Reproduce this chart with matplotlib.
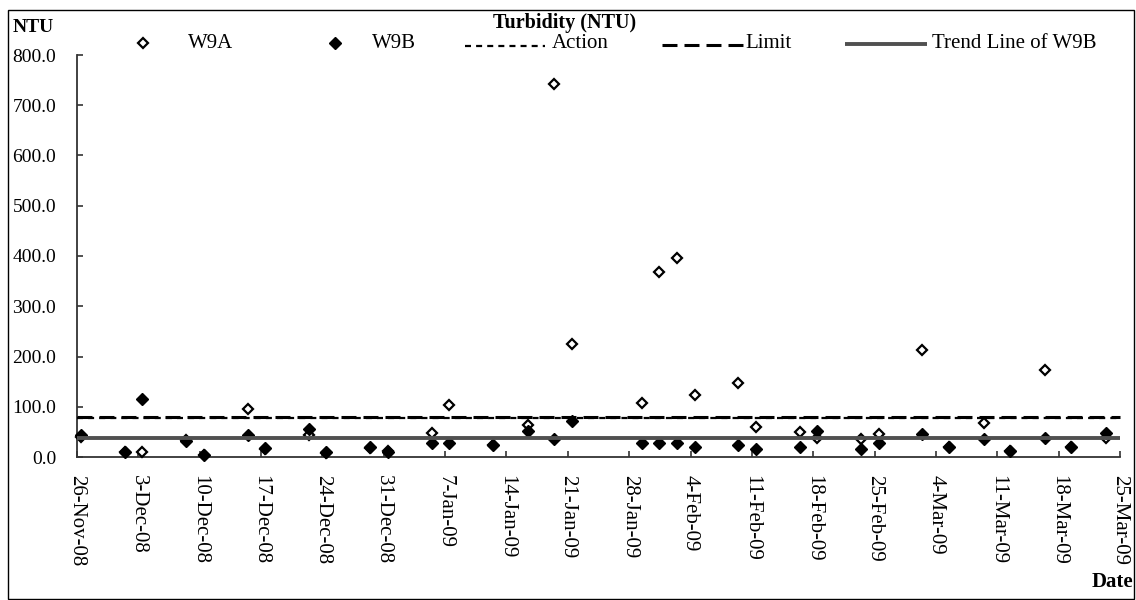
import matplotlib
matplotlib.use('Agg')
import matplotlib.pyplot as plt
import matplotlib.dates as mdates
from matplotlib.lines import Line2D
from matplotlib.patches import Rectangle
from matplotlib.ticker import FuncFormatter
import pandas as pd

# ---------------- data ----------------
sample_dates = ['2008-11-26', '2008-12-01', '2008-12-03', '2008-12-08', '2008-12-10',
                '2008-12-15', '2008-12-17', '2008-12-22', '2008-12-24', '2008-12-29',
                '2008-12-31', '2009-01-05', '2009-01-07', '2009-01-12', '2009-01-16',
                '2009-01-19', '2009-01-21', '2009-01-29', '2009-01-31', '2009-02-02',
                '2009-02-04', '2009-02-09', '2009-02-11', '2009-02-16', '2009-02-18',
                '2009-02-23', '2009-02-25', '2009-03-02', '2009-03-05', '2009-03-09',
                '2009-03-12', '2009-03-16', '2009-03-19', '2009-03-23']
sample_time = '11:00'
w9a = [40, 10, 10, 34, 4, 96, 16, 44, 8, 18,
       12, 48, 104, 24, 64, 742, 225, 108, 368, 396,
       124, 148, 60, 50, 38, 36, 46, 213, 20, 68,
       12, 173, 20, 38]
w9b = [44, 10, 116, 32, 4, 44, 18, 56, 10, 20,
       10, 28, 28, 24, 52, 36, 72, 28, 28, 28,
       20, 24, 16, 20, 52, 16, 28, 46, 20, 36,
       12, 38, 20, 48]
action_level = 77.0
limit_level = 80.0
trend_w9b = [37.0, 37.0]          # trend line value at axis start / end
axis_start, axis_end = '2008-11-26', '2009-03-25'
y_ticks = [0, 100, 200, 300, 400, 500, 600, 700, 800]
legend_labels = ['W9A', 'W9B', 'Action', 'Limit', 'Trend Line of W9B']

# ---------------- figure ----------------
plt.rcParams['font.family'] = ['Liberation Serif', 'DejaVu Serif']
W, H = 1136, 600
fig = plt.figure(figsize=(W / 100, H / 100), dpi=100)

def fx(px):
    return px / W

def fy(py):
    return 1 - py / H

ax = fig.add_axes([fx(77), fy(457), fx(1120) - fx(77), fy(55) - fy(457)])

dts = pd.to_datetime([d + ' ' + sample_time for d in sample_dates])
x0, x1 = pd.Timestamp(axis_start), pd.Timestamp(axis_end)

ax.plot(dts, w9a, linestyle='none', marker='D', markersize=5.4,
        markerfacecolor='white', markeredgecolor='black', markeredgewidth=1.6,
        zorder=3, clip_on=False)
ax.plot(dts, w9b, linestyle='none', marker='D', markersize=5.8,
        markerfacecolor='black', markeredgecolor='black', markeredgewidth=1.0,
        zorder=4, clip_on=False)

ax.plot([x0, x1], [action_level, action_level], color='black', lw=1.6,
        linestyle=(0, (2.7, 2.3)), zorder=5, clip_on=False)
ax.plot([x0, x1], [limit_level, limit_level], color='black', lw=2.2,
        linestyle=(0, (4.9, 2.3)), zorder=5, clip_on=False)
ax.plot([x0, x1], trend_w9b, color='#505050', lw=2.8, zorder=5,
        solid_capstyle='butt', clip_on=False)

ax.set_xlim(mdates.date2num(x0), mdates.date2num(x1))
ax.set_ylim(y_ticks[0], y_ticks[-1])
ax.set_yticks(y_ticks)
ax.yaxis.set_major_formatter(FuncFormatter(lambda v, p: f'{v:.1f}'))

xt = pd.date_range(x0, x1, freq='7D')
ax.set_xticks(mdates.date2num(xt))
ax.set_xticklabels([f'{d.day}-{d:%b-%y}' for d in xt], rotation=270,
                   ha='center', va='top', fontsize=15)

for s in ['top', 'right']:
    ax.spines[s].set_visible(False)
for s in ['left', 'bottom']:
    ax.spines[s].set_color('#333333')
    ax.spines[s].set_linewidth(1.3)

ax.tick_params(axis='both', direction='in', length=4, width=1.2, color='#333333',
               labelcolor='black')
ax.tick_params(axis='y', labelsize=14, pad=15)
ax.tick_params(axis='x', pad=13)

# ---------------- texts ----------------
fig.text(fx(13), fy(27), 'NTU', fontsize=14, fontweight='bold', ha='left', va='center')
fig.text(fx(565), fy(23), 'Turbidity (NTU)', fontsize=14.5, fontweight='bold',
         ha='center', va='center')
fig.text(fx(1133), fy(582), 'Date', fontsize=15, fontweight='bold', ha='right', va='center')

# ---------------- legend ----------------
ly = fy(44)
fig.add_artist(Line2D([fx(143)], [fy(43)], marker='D', markersize=5.4, linestyle='none',
                      markerfacecolor='white', markeredgecolor='black', markeredgewidth=1.6))
fig.text(fx(188), ly, legend_labels[0], fontsize=15, ha='left', va='center')
fig.add_artist(Line2D([fx(335)], [fy(43)], marker='D', markersize=5.8, linestyle='none',
                      markerfacecolor='black', markeredgecolor='black'))
fig.text(fx(372), ly, legend_labels[1], fontsize=15, ha='left', va='center')
fig.add_artist(Line2D([fx(465), fx(545)], [fy(46), fy(46)], color='black', lw=1.6,
                      linestyle=(0, (2.7, 2.3))))
fig.text(fx(552), ly, legend_labels[2], fontsize=15, ha='left', va='center')
fig.add_artist(Line2D([fx(662), fx(743)], [fy(45), fy(45)], color='black', lw=2.2,
                      linestyle=(0, (4.9, 2.3))))
fig.text(fx(745), ly, legend_labels[3], fontsize=15, ha='left', va='center')
fig.add_artist(Line2D([fx(845), fx(927)], [fy(44), fy(44)], color='#505050', lw=2.8,
                      solid_capstyle='butt'))
fig.text(fx(932), ly, legend_labels[4], fontsize=15, ha='left', va='center')

# ---------------- chart frame ----------------
fig.add_artist(Rectangle((fx(8), fy(599)), fx(1134) - fx(8), fy(10) - fy(599),
                         fill=False, edgecolor='black', lw=1.0))

fig.savefig('out.png', dpi=100)
